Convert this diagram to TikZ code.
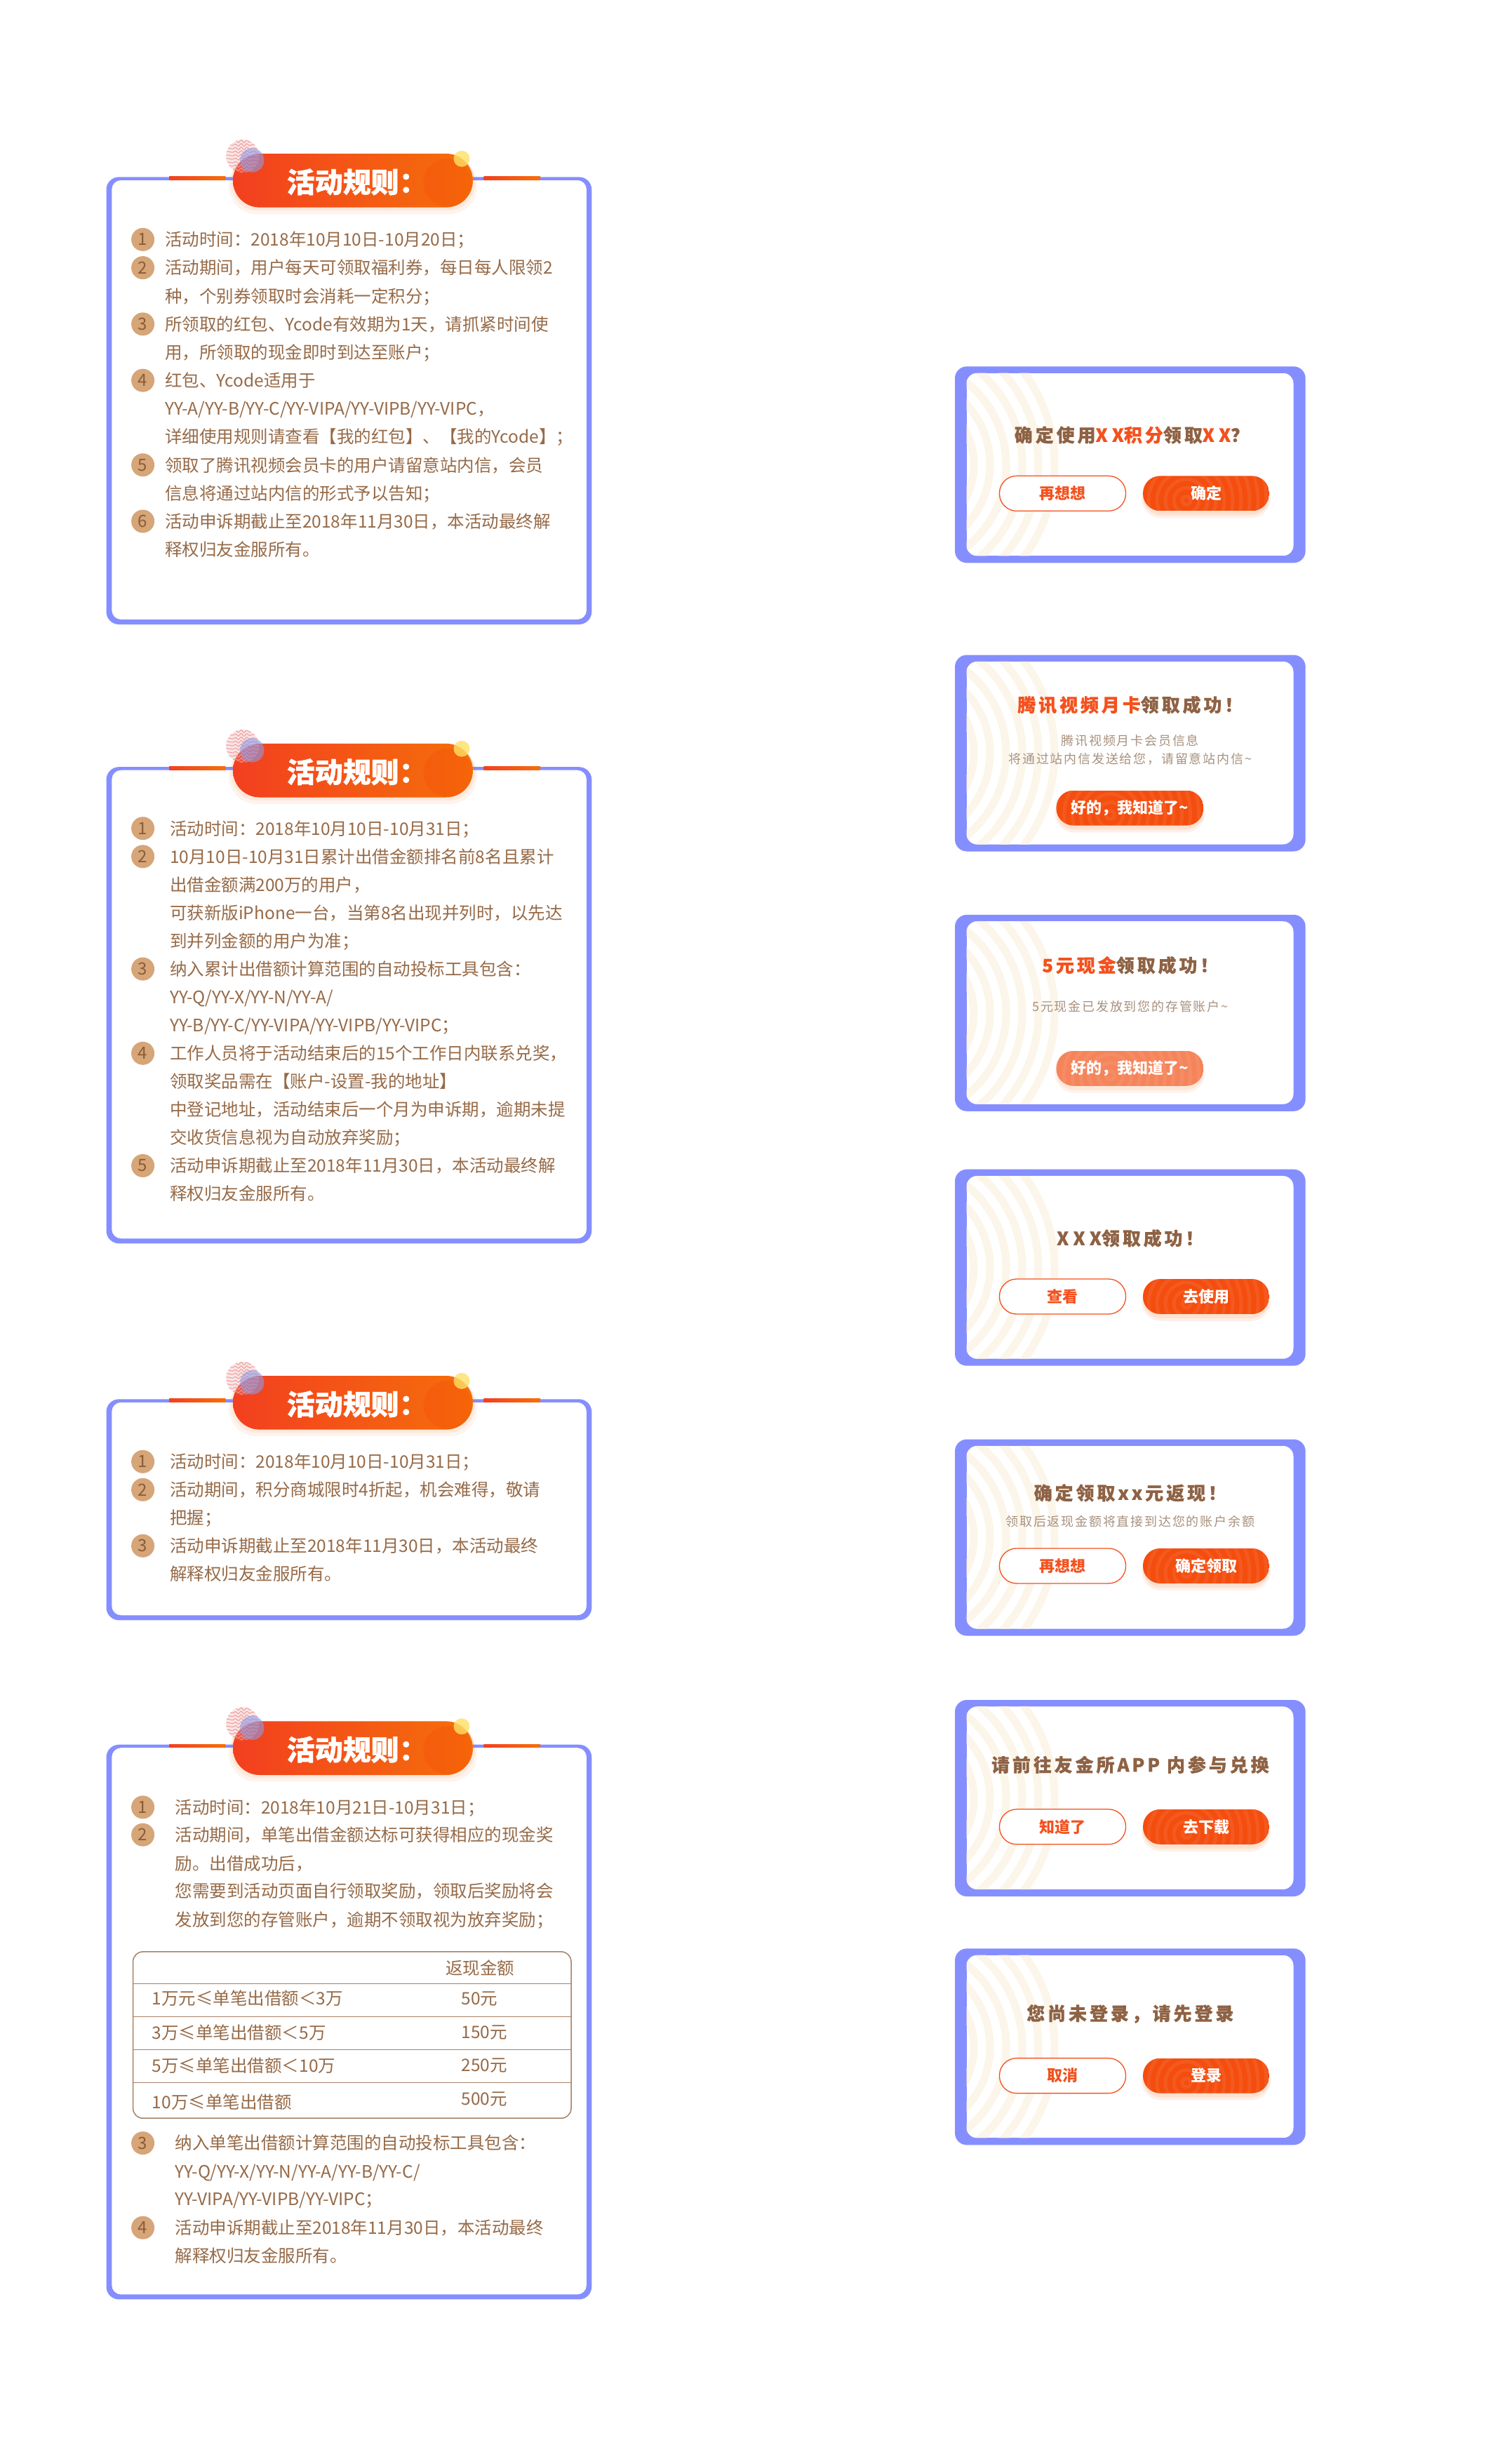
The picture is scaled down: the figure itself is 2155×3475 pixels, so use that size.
\documentclass[tikz,border=0pt]{standalone}
\usepackage{fontspec}
\setmainfont{Noto Sans CJK SC}
\usetikzlibrary{calc}

\definecolor{frameblue}{HTML}{858EFF}
\definecolor{txtbrown}{HTML}{966A47}
\definecolor{numtan}{HTML}{D6A578}
\definecolor{numbrown}{HTML}{8C5C36}
\definecolor{titlebrown}{HTML}{8E6244}
\definecolor{accent}{HTML}{F4511E}
\definecolor{btnfill}{HTML}{F44D0E}
\definecolor{btnlight}{HTML}{F5845A}
\definecolor{subgrey}{HTML}{A8917E}
\definecolor{cream}{HTML}{FCF5E9}
\definecolor{pillL}{HTML}{F33F20}
\definecolor{pillR}{HTML}{F56F0A}
\definecolor{tableline}{HTML}{A88064}
\definecolor{pinkdeco}{HTML}{EE9A9A}
\definecolor{bluedeco}{HTML}{8D9BE8}
\definecolor{yellowdeco}{HTML}{FFE066}

\newcommand\ruletitlefont{\fontsize{40}{40}\selectfont\bfseries\addfontfeature{FakeBold=1}}
\newcommand\btnfont{\fontsize{22}{22}\selectfont\bfseries}
\newcommand\wideX[1]{{\addfontfeature{LetterSpace=24,FakeBold=0.5}#1}}

\tikzset{
  bodytxt/.style={anchor=west, inner sep=0pt, text=txtbrown,
    font=\fontsize{24.5}{30}\selectfont, text height=21.6pt, text depth=2.9pt},
  numcirc/.style={circle, fill=numtan, minimum size=33pt, inner sep=0pt,
    text=numbrown, font=\fontsize{24}{24}\selectfont},
  ptitle/.style={inner sep=0pt, text=titlebrown,
    font=\fontsize{26}{26}\selectfont\bfseries\addfontfeature{LetterSpace=15,FakeBold=0.5},
    text height=22.9pt, text depth=3.1pt},
  psub/.style={inner sep=0pt, text=subgrey,
    font=\fontsize{18}{18}\selectfont\addfontfeature{LetterSpace=10},
    text height=15.8pt, text depth=2.2pt},
  obtnst/.style={draw=accent, line width=1.3pt, fill=white, rounded corners=24.5pt,
    minimum width=180pt, minimum height=50pt, inner sep=0pt, text=accent, font=\btnfont},
  fbtnst/.style={minimum height=50pt, inner sep=0pt, text=white, font=\btnfont},
}

\newcommand\bline[4]{\node[bodytxt] (#1) at (#2,#3) {#4};}
\newcommand\ncirc[3]{\node[numcirc] (#1) at (203.6,#2) {#3};}

% rule panel: #1 name prefix, #2 frame outer top, #3 frame outer bottom
\newcommand\rulepanel[3]{%
  \fill[frameblue, even odd rule] [rounded corners=18] (151.5,#2) rectangle (843.3,#3)
     [rounded corners=13] (159.3,#2+4.5) rectangle (836,#3-7);
  \shade[left color=pillL, right color=pillR] (241,#2-0.5) rectangle (321.4,#2+4.2);
  \shade[left color=pillL, right color=pillR] (689.6,#2-0.5) rectangle (770,#2+4.2);
  \fill[pillR, opacity=0.07, rounded corners=40] (326,#2-29) rectangle (680,#2+53);
  \fill[pillR, opacity=0.08, rounded corners=39] (329,#2-32) rectangle (677,#2+48);
  \shade[left color=pillL, right color=pillR, rounded corners=38] (332,#2-33.3) rectangle (674,#2+43.3);
  \fill[red!60!pillR, opacity=0.15] (638,#2+8) circle (34.5);
  \begin{scope}
    \clip (345.8,#2-29.8) circle (23.6);
    \fill[pinkdeco, opacity=0.25] (345.8,#2-29.8) circle (23.6);
    \foreach \k in {0,5,...,50}
      \draw[pinkdeco, line width=1] plot[domain=-26:26, samples=14, smooth]
        ({345.8+\x},{#2-29.8-26+\k+2*sin(\x*40)});
  \end{scope}
  \fill[bluedeco, opacity=0.6] (359.3,#2-23.9) circle (17.2);
  \fill[yellowdeco, opacity=0.8] (658,#2-26) circle (11.5);
  \node[anchor=west, inner sep=0pt, text=white, font=\ruletitlefont] (#1title) at (408.6,#2+7) {活动规则：};
}

% popup: #1 name, #2 top
\newcommand\popupbox[2]{%
  \fill[frameblue, rounded corners=17] (1361,#2) rectangle (1860.7,#2+280);
  \begin{scope}
    \clip[rounded corners=15] (1377.5,#2+9.4) rectangle (1843.5,#2+270);
    \fill[white] (1377.5,#2+9.4) rectangle (1843.5,#2+270);
    \foreach \r in {104,127,...,219}
      \draw[cream, line width=11] (1284,#2+140) circle (\r);
  \end{scope}
  \coordinate (#1) at (1610.8,#2+140);
}

\newcommand\obtn[4]{\node[obtnst] (#1) at (#2,#3) {#4};}
% filled button: name, x, y, width, text, colour
\newcommand\fbtn[6]{%
  \fill[#6!60!orange, opacity=0.09, rounded corners=28] (#2-#4/2-2,#3-19) rectangle (#2+#4/2+2,#3+35);
  \fill[#6!60!orange, opacity=0.10, rounded corners=26] (#2-#4/2,#3-21) rectangle (#2+#4/2,#3+31);
  \begin{scope}
    \clip[rounded corners=24.5] (#2-#4/2,#3-25) rectangle (#2+#4/2,#3+25);
    \fill[#6] (#2-#4/2,#3-25) rectangle (#2+#4/2,#3+25);
    \foreach \r in {6,18,...,126}
      \draw[white, opacity=0.07, line width=5] (#2-28,#3+10) circle (\r);
  \end{scope}
  \node[fbtnst, minimum width=#4] (#1) at (#2,#3) {#5};
}

\begin{document}
\begin{tikzpicture}[x=1pt,y=-1pt]
\useasboundingbox (0,0) rectangle (2155,3475);
\fill[white] (0,0) rectangle (2155,3475);

% ---------------- Panel 1 ----------------
\rulepanel{pa}{252.3}{890}
\ncirc{pan1}{341.4}{1}
\bline{pal1}{235}{341.4}{活动时间：2018年10月10日-10月20日；}
\ncirc{pan2}{381.6}{2}
\bline{pal2}{235}{381.6}{活动期间，用户每天可领取福利券，每日每人限领2}
\bline{pal3}{235}{421.7}{种，个别券领取时会消耗一定积分；}
\ncirc{pan3}{461.9}{3}
\bline{pal4}{235}{461.9}{所领取的红包、Ycode有效期为1天，请抓紧时间使}
\bline{pal5}{235}{502.0}{用，所领取的现金即时到达至账户；}
\ncirc{pan4}{542.2}{4}
\bline{pal6}{235}{542.2}{红包、Ycode适用于}
\bline{pal7}{235}{582.4}{YY-A/YY-B/YY-C/YY-VIPA/YY-VIPB/YY-VIPC，}
\bline{pal8}{235}{622.5}{详细使用规则请查看【我的红包】、【我的Ycode】；}
\ncirc{pan5}{662.7}{5}
\bline{pal9}{235}{662.7}{领取了腾讯视频会员卡的用户请留意站内信，会员}
\bline{pal10}{235}{702.8}{信息将通过站内信的形式予以告知；}
\ncirc{pan6}{743.0}{6}
\bline{pal11}{235}{743.0}{活动申诉期截止至2018年11月30日，本活动最终解}
\bline{pal12}{235}{783.1}{释权归友金服所有。}

% ---------------- Panel 2 ----------------
\rulepanel{pb}{1093.2}{1772.3}
\ncirc{pbn1}{1180.7}{1}
\bline{pbl1}{242}{1180.7}{活动时间：2018年10月10日-10月31日；}
\ncirc{pbn2}{1220.8}{2}
\bline{pbl2}{242}{1220.8}{10月10日-10月31日累计出借金额排名前8名且累计}
\bline{pbl3}{242}{1260.8}{出借金额满200万的用户，}
\bline{pbl4}{242}{1300.9}{可获新版iPhone一台，当第8名出现并列时，以先达}
\bline{pbl5}{242}{1341.0}{到并列金额的用户为准；}
\ncirc{pbn3}{1381.1}{3}
\bline{pbl6}{242}{1381.1}{纳入累计出借额计算范围的自动投标工具包含：}
\bline{pbl7}{242}{1421.1}{YY-Q/YY-X/YY-N/YY-A/}
\bline{pbl8}{242}{1461.2}{YY-B/YY-C/YY-VIPA/YY-VIPB/YY-VIPC；}
\ncirc{pbn4}{1501.3}{4}
\bline{pbl9}{242}{1501.3}{工作人员将于活动结束后的15个工作日内联系兑奖，}
\bline{pbl10}{242}{1541.3}{领取奖品需在【账户-设置-我的地址】}
\bline{pbl11}{242}{1581.4}{中登记地址，活动结束后一个月为申诉期，逾期未提}
\bline{pbl12}{242}{1621.5}{交收货信息视为自动放弃奖励；}
\ncirc{pbn5}{1661.5}{5}
\bline{pbl13}{242}{1661.5}{活动申诉期截止至2018年11月30日，本活动最终解}
\bline{pbl14}{242}{1701.6}{释权归友金服所有。}

% ---------------- Panel 3 ----------------
\rulepanel{pc}{1994.3}{2309.3}
\ncirc{pcn1}{2083.3}{1}
\bline{pcl1}{242}{2083.3}{活动时间：2018年10月10日-10月31日；}
\ncirc{pcn2}{2123.3}{2}
\bline{pcl2}{242}{2123.3}{活动期间，积分商城限时4折起，机会难得，敬请}
\bline{pcl3}{242}{2163.3}{把握；}
\ncirc{pcn3}{2203.3}{3}
\bline{pcl4}{242}{2203.3}{活动申诉期截止至2018年11月30日，本活动最终}
\bline{pcl5}{242}{2243.3}{解释权归友金服所有。}

% ---------------- Panel 4 ----------------
\rulepanel{pd}{2486.7}{3277.4}
\ncirc{pdn1}{2575.9}{1}
\bline{pdl1}{249.3}{2575.9}{活动时间：2018年10月21日-10月31日；}
\ncirc{pdn2}{2615.2}{2}
\bline{pdl2}{249.3}{2615.2}{活动期间，单笔出借金额达标可获得相应的现金奖}
\bline{pdl3}{249.3}{2656.2}{励。出借成功后，}
\bline{pdl4}{249.3}{2695.4}{您需要到活动页面自行领取奖励，领取后奖励将会}
\bline{pdl5}{249.3}{2735.8}{发放到您的存管账户，逾期不领取视为放弃奖励；}
% table
\draw[tableline, line width=1.5, rounded corners=14] (189.6,2781.9) rectangle (814,3019.2);
\draw[tableline, line width=1.2] (189.6,2827.3) -- (814,2827.3);
\draw[tableline, line width=1.2] (189.6,2874.4) -- (814,2874.4);
\draw[tableline, line width=1.2] (189.6,2921.6) -- (814,2921.6);
\draw[tableline, line width=1.2] (189.6,2968.2) -- (814,2968.2);
\node[bodytxt, anchor=center] (tbh) at (684,2804.9) {返现金额};
\bline{tbr1}{216.7}{2848}{1万元≤单笔出借额＜3万}
\bline{tbv1}{657.4}{2848}{50元}
\bline{tbr2}{216.7}{2897.5}{3万≤单笔出借额＜5万}
\bline{tbv2}{657.4}{2895.8}{150元}
\bline{tbr3}{216.7}{2944.6}{5万≤单笔出借额＜10万}
\bline{tbv3}{657.4}{2943.5}{250元}
\bline{tbr4}{216.7}{2995.7}{10万≤单笔出借额}
\bline{tbv4}{657.4}{2991.2}{500元}
\ncirc{pdn3}{3054.6}{3}
\bline{pdl6}{249.3}{3054.6}{纳入单笔出借额计算范围的自动投标工具包含：}
\bline{pdl7}{249.3}{3095}{YY-Q/YY-X/YY-N/YY-A/YY-B/YY-C/}
\bline{pdl8}{249.3}{3134.3}{YY-VIPA/YY-VIPB/YY-VIPC；}
\ncirc{pdn4}{3175.2}{4}
\bline{pdl9}{249.3}{3175.2}{活动申诉期截止至2018年11月30日，本活动最终}
\bline{pdl10}{249.3}{3215.6}{解释权归友金服所有。}

% ---------------- Popups ----------------
\popupbox{popa}{522.3}
\node[ptitle] (popat) at (1613,620) {确定使用\textcolor{accent}{\wideX{XX}积分}领取\textcolor{accent}{\wideX{XX}}？};
\obtn{popab1}{1514.5}{703.3}{再想想}
\fbtn{popab2}{1719}{703.3}{180}{确定}{btnfill}

\popupbox{popb}{933.5}
\node[ptitle] (popbt) at (1610.8,1004.6) {\textcolor{accent}{腾讯视频月卡}领取成功！};
\node[psub] (popbs1) at (1610.8,1055.8) {腾讯视频月卡会员信息};
\node[psub] (popbs2) at (1610.8,1081.8) {将通过站内信发送给您，请留意站内信\textasciitilde};
\fbtn{popbb}{1610.4}{1151.6}{210}{好的，我知道了\textasciitilde}{btnfill}

\popupbox{popc}{1303.8}
\node[ptitle] (popct) at (1610.8,1375.8) {\textcolor{accent}{5元现金}领取成功！};
\node[psub] (popcs) at (1610.8,1434.3) {5元现金已发放到您的存管账户\textasciitilde};
\fbtn{popcb}{1610.4}{1522.8}{210}{好的，我知道了\textasciitilde}{btnlight}

\popupbox{popd}{1666.7}
\node[ptitle] (popdt) at (1610.8,1764.9) {\wideX{XXX}领取成功！};
\obtn{popdb1}{1514.5}{1848}{查看}
\fbtn{popdb2}{1719}{1848}{180}{去使用}{btnfill}

\popupbox{pope}{2051.5}
\node[ptitle] (popet) at (1610.8,2127.9) {确定领取xx元返现！};
\node[psub] (popes) at (1610.8,2169) {领取后返现金额将直接到达您的账户余额};
\obtn{popeb1}{1514.5}{2231.9}{再想想}
\fbtn{popeb2}{1719}{2231.9}{180}{确定领取}{btnfill}

\popupbox{popf}{2423}
\node[ptitle] (popft) at (1610.8,2515.4) {请前往友金所APP 内参与兑换};
\obtn{popfb1}{1514.5}{2603.8}{知道了}
\fbtn{popfb2}{1719}{2603.8}{180}{去下载}{btnfill}

\popupbox{popg}{2777.3}
\node[ptitle] (popgt) at (1610.8,2869.7) {您尚未登录，请先登录};
\obtn{popgb1}{1514.5}{2958.6}{取消}
\fbtn{popgb2}{1719}{2958.6}{180}{登录}{btnfill}

\end{tikzpicture}
\end{document}
